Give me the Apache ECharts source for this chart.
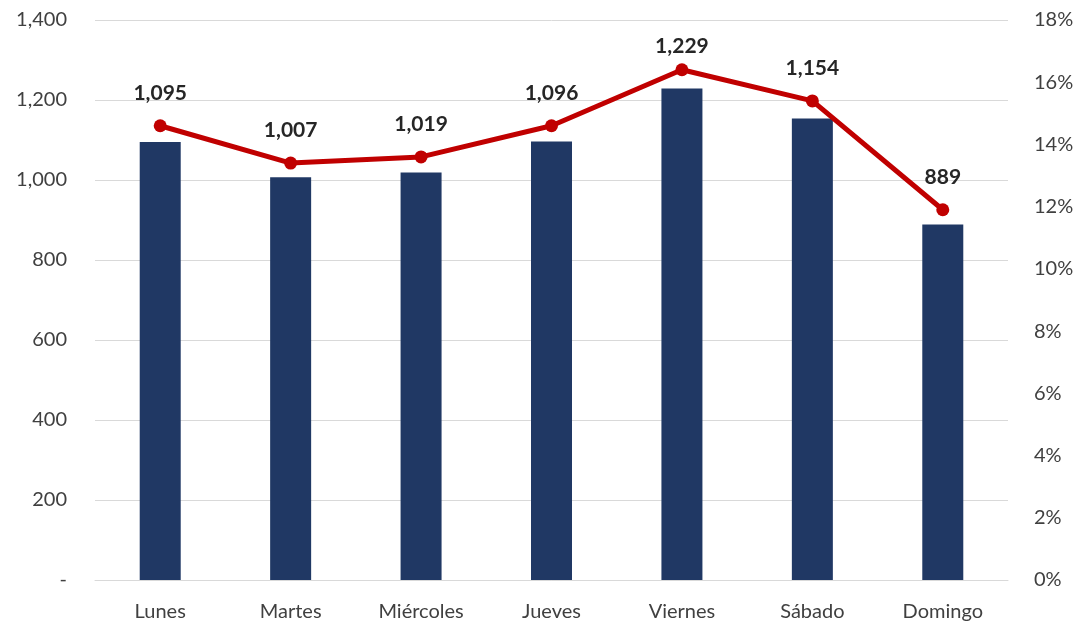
<!DOCTYPE html>
<html>
<head>
<meta charset="utf-8">
<script src="https://cdn.jsdelivr.net/npm/echarts@6/dist/echarts.min.js"></script>
<style>
  html, body { margin: 0; padding: 0; background: #fff; }
  #chart { width: 1083px; height: 625px; }
</style>
</head>
<body>
<div id="chart"></div>
<script>
// días de la semana
const dias = ["Lunes", "Martes", "Miércoles", "Jueves", "Viernes", "Sábado", "Domingo"];
// total por día (barras)
const totales = [1095, 1007, 1019, 1096, 1229, 1154, 889];
// participación % (línea, eje derecho)
const participacion = [14.6, 13.4, 13.6, 14.6, 16.4, 15.4, 11.9];

const fontFam = "Lato, 'Noto Sans', sans-serif";
const chart = echarts.init(document.getElementById("chart"));

// la etiqueta de Viernes queda más pegada al punto (tope del gráfico)
const lineData = participacion.map((v, i) =>
  i === 4 ? { value: v, label: { distance: 7 } } : v
);

chart.setOption({
  animation: false,
  grid: { left: 95, right: 75, top: 20, bottom: 45 },
  xAxis: {
    type: "category",
    data: dias,
    axisTick: { show: false },
    axisLine: { lineStyle: { color: "#d9d9d9", width: 1 } },
    axisLabel: { color: "#404040", fontSize: 20, fontFamily: fontFam, margin: 22 }
  },
  yAxis: [
    {
      type: "value",
      min: 0, max: 1400, interval: 200,
      axisLine: { show: false },
      axisTick: { show: false },
      splitLine: { lineStyle: { color: "#d9d9d9", width: 1 } },
      axisLabel: {
        color: "#404040", fontSize: 20, fontFamily: fontFam, margin: 28,
        formatter: v => v === 0 ? "-" : v.toLocaleString("en-US")
      }
    },
    {
      type: "value",
      min: 0, max: 18, interval: 2,
      axisLine: { show: false },
      axisTick: { show: false },
      splitLine: { show: false },
      axisLabel: {
        color: "#404040", fontSize: 20, fontFamily: fontFam, margin: 26,
        formatter: v => v + "%"
      }
    }
  ],
  series: [
    {
      type: "bar",
      data: totales,
      barWidth: 41,
      itemStyle: { color: "#203864" }
    },
    {
      type: "line",
      yAxisIndex: 1,
      data: lineData,
      symbol: "circle",
      symbolSize: 13,
      lineStyle: { color: "#c00000", width: 5 },
      itemStyle: { color: "#c00000" },
      label: {
        show: true,
        position: "top",
        distance: 16,
        color: "#262626",
        fontSize: 21,
        fontWeight: "bold",
        fontFamily: fontFam,
        formatter: p => totales[p.dataIndex].toLocaleString("en-US")
      }
    }
  ]
});
</script>
</body>
</html>
